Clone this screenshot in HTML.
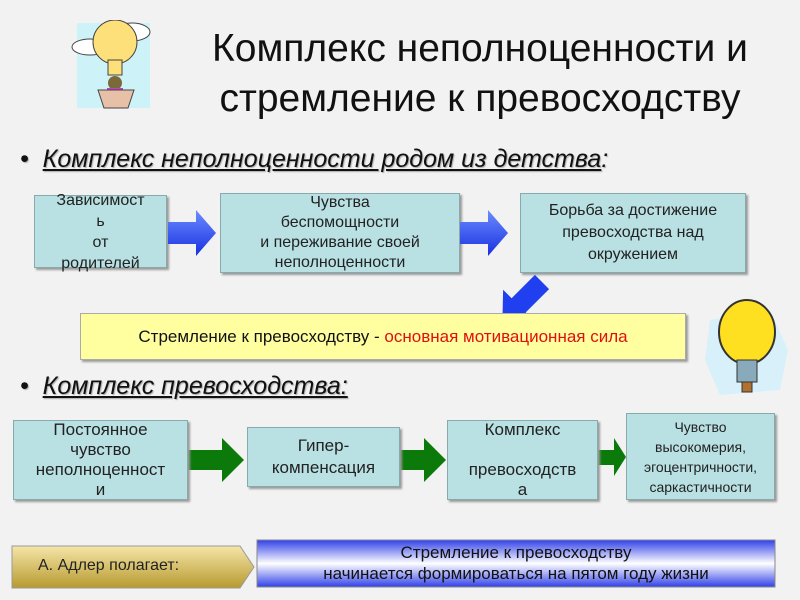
<!DOCTYPE html>
<html><head><meta charset="utf-8"><style>
body{margin:0;width:800px;height:600px;background:#f2f2f2;position:relative;overflow:hidden;font-family:"Liberation Sans",sans-serif;color:#111}
.a{position:absolute}
.box{position:absolute;background:#b9e0e2;border:1px solid #8aa;box-shadow:2px 2px 2px #999;display:flex;align-items:center;justify-content:center;text-align:center;font-size:16px;line-height:20px;color:#222;box-sizing:border-box;white-space:nowrap}
.title{position:absolute;left:160px;width:640px;text-align:center;font-size:39px;line-height:50px;top:24px;color:#111}
.bul{position:absolute;left:20px;font-size:25px;font-style:italic;text-shadow:1px 1px 1px #aaa;white-space:nowrap}
</style></head><body>
<div class="title">Комплекс неполноценности и<br>стремление к превосходству</div>

<svg class="a" style="left:70px;top:20px" width="100" height="90" viewBox="0 0 100 90">
<rect x="7" y="3" width="73" height="85" fill="#cdf2f7"/>
<ellipse cx="62" cy="12" rx="18" ry="9" fill="#fff" stroke="#444"/>
<ellipse cx="20" cy="27" rx="18" ry="8" fill="#fff" stroke="#444"/>
<ellipse cx="45" cy="22" rx="22" ry="22" fill="#fde07a" stroke="#444"/>
<rect x="38" y="40" width="14" height="15" fill="#fde07a" stroke="#444"/>
<circle cx="45" cy="63" r="7" fill="#7a6a3a"/>
<rect x="37" y="68" width="16" height="8" fill="#c040c0"/>
<path d="M28 70 h36 l-6 18 h-24z" fill="#e8c0a8" stroke="#444"/>
</svg>

<div class="bul" style="top:145px">•&nbsp;&nbsp;<u>Комплекс неполноценности родом из детства</u>:</div>

<div class="box" style="left:34px;top:195px;width:133px;height:73px;line-height:21px">Зависимост<br>ь<br>от<br>родителей</div>
<div class="box" style="left:220px;top:193px;width:240px;height:80px">Чувства<br>беспомощности<br>и переживание своей<br>неполноценности</div>
<div class="box" style="left:520px;top:193px;width:226px;height:80px;line-height:22px">Борьба за достижение<br>превосходства над<br>окружением</div>

<svg class="a" style="left:0;top:0" width="800" height="600">
<defs><linearGradient id="bl" x1="0" y1="0" x2="0" y2="1"><stop offset="0" stop-color="#6a8cff"/><stop offset="1" stop-color="#1830e0"/></linearGradient></defs>
<polygon points="168,222 196,222 196,210 216,233 196,256 196,244 168,244" fill="url(#bl)"/>
<polygon points="460,222 488,222 488,210 508,233 488,256 488,244 460,244" fill="url(#bl)"/>
<polygon transform="translate(542,282) rotate(135)" points="0,-10 33,-10 33,-22 56,0 33,22 33,10 0,10" fill="#2040f0"/>
<polygon points="188,450 222,450 222,438 244,460 222,482 222,470 188,470" fill="#0b7a0b"/>
<polygon points="400,450 424,450 424,438 446,460 424,482 424,470 400,470" fill="#0b7a0b"/>
<polygon points="598,450 614,450 614,438 626,457 614,476 614,465 598,465" fill="#0b7a0b"/>
<defs><linearGradient id="gd" x1="0" y1="0" x2="0" y2="1"><stop offset="0" stop-color="#f5e6a8"/><stop offset="1" stop-color="#b89a30"/></linearGradient>
<linearGradient id="bb" x1="0" y1="0" x2="0" y2="1"><stop offset="0" stop-color="#3040e8"/><stop offset="0.5" stop-color="#fff"/><stop offset="1" stop-color="#3040e8"/></linearGradient></defs>
<polygon points="12,546 240,546 254,567 240,588 12,588" fill="url(#gd)" stroke="#999"/>
<rect x="257" y="540" width="518" height="47" fill="url(#bb)" stroke="#888"/>
</svg>

<div class="a" style="left:80px;top:313px;width:606px;height:47px;background:#ffffa0;border:1px solid #aaa;box-shadow:2px 2px 2px #999;box-sizing:border-box;display:flex;align-items:center;justify-content:center;font-size:17px;white-space:nowrap">Стремление к превосходству -&nbsp;<span style="color:#e01010">основная мотивационная сила</span></div>

<svg class="a" style="left:700px;top:290px" width="95" height="110" viewBox="0 0 95 110">
<polygon points="10,30 70,20 88,60 80,100 20,105 5,70" fill="#d8f0fa"/>
<ellipse cx="47" cy="42" rx="28" ry="32" fill="#ffe020" stroke="#333" stroke-width="2"/>
<rect x="37" y="70" width="20" height="22" fill="#8ab" stroke="#333"/>
<rect x="42" y="92" width="10" height="10" fill="#b07030" stroke="#333"/>
</svg>

<div class="bul" style="top:372px">•&nbsp;&nbsp;<u>Комплекс превосходства:</u></div>

<div class="box" style="left:13px;top:420px;width:175px;height:80px;font-size:17px">Постоянное<br>чувство<br>неполноценност<br>и</div>
<div class="box" style="left:247px;top:427px;width:153px;height:60px;font-size:17px;line-height:22px">Гипер-<br>компенсация</div>
<div class="box" style="left:447px;top:420px;width:151px;height:80px;font-size:17px">Комплекс<br><br>превосходств<br>а</div>
<div class="box" style="left:626px;top:413px;width:149px;height:87px;font-size:14px">Чувство<br>высокомерия,<br>эгоцентричности,<br>саркастичности</div>

<div class="a" style="left:38px;top:557px;font-size:16px;color:#222">А. Адлер полагает:</div>
<div class="a" style="left:257px;top:542px;width:518px;text-align:center;font-size:17px;line-height:21px;color:#111">Стремление к превосходству<br>начинается формироваться на пятом году жизни</div>
</body></html>
